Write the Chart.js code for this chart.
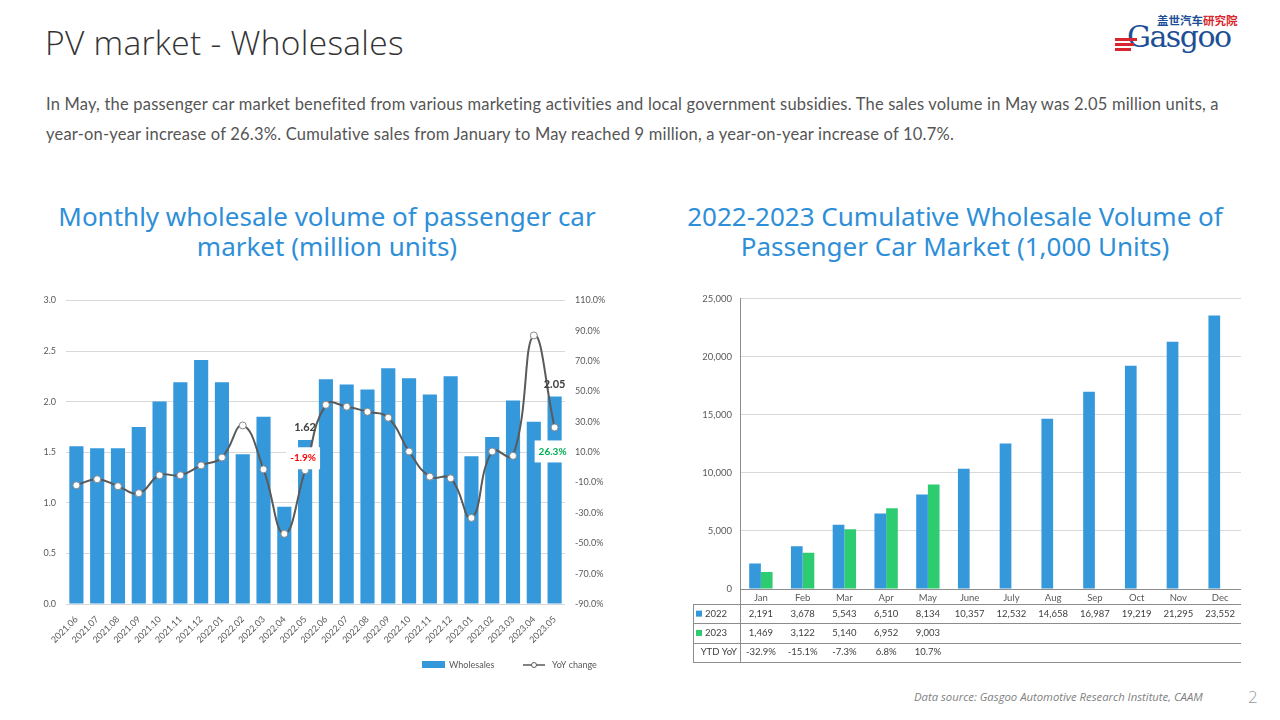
<!DOCTYPE html>
<html>
<head>
<meta charset="utf-8">
<script src="https://cdn.jsdelivr.net/npm/chart.js@4.4.0/dist/chart.umd.min.js"></script>
<style>
  html, body { margin: 0; padding: 0; background: #fff; }
  body { width: 1280px; height: 720px; position: relative; overflow: hidden; font-family: 'Open Sans', Lato, sans-serif; }
  #page-title { position: absolute; left: 45px; top: 19px; font-size: 33.5px; font-weight: 300; color: #333; letter-spacing: 0.3px; }
  #summary { position: absolute; left: 46px; top: 89px; width: 1220px; font-family: Lato, sans-serif; font-size: 16.5px; letter-spacing: 0.2px; line-height: 30px; color: #555; margin: 0; }
  .chart-title { position: absolute; top: 201px; text-align: center; font-family: 'Noto Sans', sans-serif; font-size: 26px; line-height: 30px; color: #2E8FD8; white-space: nowrap; }
  #title-left { left: 30px; width: 594px; }
  #title-right { left: 660px; width: 590px; }
  .chart-box { position: absolute; }
  #box-left { left: 30px; top: 285px; width: 600px; height: 400px; }
  #box-right { left: 685px; top: 285px; width: 565px; height: 390px; }
  #source { position: absolute; left: 914px; top: 689px; font-family: 'Open Sans', sans-serif; font-style: italic; font-size: 11.3px; color: #7f7f7f; }
  #page-num { position: absolute; left: 1248px; top: 685px; font-size: 17px; color: #9a9a9a; font-weight: 300; }
  #logo { position: absolute; left: 1114px; top: 12px; width: 125px; height: 42px; }
  #logo .cn { position: absolute; left: 43px; top: 0px; font-family: 'Noto Sans CJK SC', sans-serif; font-weight: 700; font-size: 11.5px; color: #1d4f96; white-space: nowrap; }
  #logo .cn span { color: #d9262e; }
  #logo .en { position: absolute; left: 13px; top: 7px; font-family: 'DejaVu Serif', 'Liberation Serif', serif; font-size: 30px; color: #1d4f96; letter-spacing: -1.5px; }
  #logo .stripe { position: absolute; left: 1px; height: 3px; width: 22px; background: #d9262e; }
</style>
</head>
<body>
<div id="page-title">PV market - Wholesales</div>
<p id="summary">In May, the passenger car market benefited from various marketing activities and local government subsidies. The sales volume in May was 2.05 million units, a<br>year-on-year increase of 26.3%. Cumulative sales from January to May reached 9 million, a year-on-year increase of 10.7%.</p>

<div id="logo">
  <div class="cn">盖世汽车<span>研究院</span></div>
  <div class="en">Gasgoo</div>
  <div class="stripe" style="top:26px"></div>
  <div class="stripe" style="top:31px;width:19px"></div>
  <div class="stripe" style="top:36px;width:16px"></div>
</div>

<div class="chart-title" id="title-left">Monthly wholesale volume of passenger car<br>market (million units)</div>
<div class="chart-title" id="title-right">2022-2023 Cumulative Wholesale Volume of<br>Passenger Car Market (1,000 Units)</div>

<div class="chart-box" id="box-left"><canvas id="monthlyChart"></canvas></div>
<div class="chart-box" id="box-right"><canvas id="cumulativeChart"></canvas></div>

<div id="source">Data source: Gasgoo Automotive Research Institute, CAAM</div>
<div id="page-num">2</div>

<script>
// Monthly wholesale (million units) and YoY change (%)
const months = ['2021.06', '2021.07', '2021.08', '2021.09', '2021.10', '2021.11', '2021.12',
  '2022.01', '2022.02', '2022.03', '2022.04', '2022.05', '2022.06', '2022.07', '2022.08',
  '2022.09', '2022.10', '2022.11', '2022.12', '2023.01', '2023.02', '2023.03', '2023.04', '2023.05'];
const wholesales = [1.56, 1.54, 1.54, 1.75, 2.00, 2.19, 2.41, 2.19, 1.48, 1.85, 0.96, 1.62,
  2.22, 2.17, 2.12, 2.33, 2.23, 2.07, 2.25, 1.46, 1.65, 2.01, 1.80, 2.05];
const yoyChange = [-11.8, -7.8, -12.4, -17.0, -5.2, -5.2, 1.3, 6.5, 27.6, -1.3, -43.8, -1.9,
  41.2, 40.0, 36.6, 32.7, 10.5, -6.1, -7.2, -33.3, 10.5, 7.6, 86.9, 26.3];

// Cumulative wholesale (1,000 units)
const cumMonths = ['Jan', 'Feb', 'Mar', 'Apr', 'May', 'June', 'July', 'Aug', 'Sep', 'Oct', 'Nov', 'Dec'];
const cum2022 = [2191, 3678, 5543, 6510, 8134, 10357, 12532, 14658, 16987, 19219, 21295, 23552];
const cum2023 = [1469, 3122, 5140, 6952, 9003, null, null, null, null, null, null, null];
const ytdYoY = [-32.9, -15.1, -7.3, 6.8, 10.7];

const BLUE = '#3498DB';
const GREEN = '#2ECC71';
const GREY_LINE = '#5a5a5a';
const TICK_COLOR = '#595959';
const tickFont = { family: 'Lato', size: 9 };

// months whose values get callouts
const highlighted = [11, 23];

const monthlyLabels = {
  id: 'monthlyLabels',
  afterDatasetsDraw(chart) {
    const { ctx } = chart;
    const bars = chart.getDatasetMeta(0).data;
    const points = chart.getDatasetMeta(1).data;
    ctx.save();
    highlighted.forEach((i) => {
      const bar = bars[i];
      ctx.font = 'bold 11px Lato';
      ctx.fillStyle = '#404040';
      ctx.textAlign = 'center';
      ctx.textBaseline = 'bottom';
      ctx.fillText(wholesales[i].toFixed(2), bar.x, bar.y - 7);

      const pt = points[i];
      const val = yoyChange[i];
      const txt = `${val.toFixed(1)}%`;
      const cy = val < 0 ? pt.y - 12 : pt.y + 24;
      const cx = pt.x - 2;
      ctx.font = 'bold 10px Lato';
      const w = ctx.measureText(txt).width + 8;
      ctx.fillStyle = '#ffffff';
      ctx.fillRect(cx - w / 2, cy - 11, w, 22);
      ctx.fillStyle = val < 0 ? '#FF0000' : '#00B050';
      ctx.textBaseline = 'middle';
      ctx.fillText(txt, cx, cy);
    });
    ctx.restore();
  },
  afterDraw(chart) {
    const { ctx } = chart;
    const y = chart.height - 20;
    ctx.save();
    ctx.fillStyle = BLUE;
    ctx.fillRect(392, y - 4, 23, 7);
    ctx.font = '9px Lato';
    ctx.fillStyle = TICK_COLOR;
    ctx.textAlign = 'left';
    ctx.textBaseline = 'middle';
    ctx.fillText('Wholesales', 419, y);
    ctx.strokeStyle = GREY_LINE;
    ctx.lineWidth = 1.5;
    ctx.beginPath();
    ctx.moveTo(493, y);
    ctx.lineTo(515, y);
    ctx.stroke();
    ctx.beginPath();
    ctx.arc(504, y, 2.5, 0, Math.PI * 2);
    ctx.fillStyle = '#fff';
    ctx.fill();
    ctx.lineWidth = 1;
    ctx.stroke();
    ctx.fillStyle = TICK_COLOR;
    ctx.fillText('YoY change', 522, y);
    ctx.restore();
  },
};

new Chart(document.getElementById('monthlyChart'), {
  data: {
    labels: months,
    datasets: [
      {
        type: 'bar',
        label: 'Wholesales',
        data: wholesales,
        backgroundColor: BLUE,
        yAxisID: 'y',
        categoryPercentage: 1,
        barPercentage: 0.68,
        order: 1,
      },
      {
        type: 'line',
        label: 'YoY change',
        data: yoyChange,
        yAxisID: 'y1',
        borderColor: GREY_LINE,
        borderWidth: 2,
        tension: 0.45,
        pointRadius: 3.5,
        pointBackgroundColor: '#ffffff',
        pointBorderColor: '#888888',
        pointBorderWidth: 1,
        order: 0,
      },
    ],
  },
  options: {
    responsive: true,
    maintainAspectRatio: false,
    animation: false,
    layout: { padding: { top: 13, bottom: 31, left: 0, right: 0 } },
    plugins: { legend: { display: false }, tooltip: { enabled: false } },
    scales: {
      x: {
        grid: { display: false },
        border: { display: false },
        ticks: { color: TICK_COLOR, font: tickFont, minRotation: 45, maxRotation: 45, padding: 2 },
        afterFit: (scale) => { scale.height = 50; },
      },
      y: {
        position: 'left',
        min: 0,
        max: 3,
        ticks: { stepSize: 0.5, color: TICK_COLOR, font: tickFont, padding: 10, callback: (v) => v.toFixed(1) },
        grid: { color: '#d9d9d9', drawTicks: false },
        border: { display: false },
        afterFit: (scale) => { scale.width = 36; },
      },
      y1: {
        position: 'right',
        min: -90,
        max: 110,
        ticks: { stepSize: 20, color: TICK_COLOR, font: tickFont, padding: 10, callback: (v) => `${v.toFixed(1)}%` },
        grid: { drawOnChartArea: false, drawTicks: false },
        border: { display: false },
        afterFit: (scale) => { scale.width = 65; },
      },
    },
  },
  plugins: [monthlyLabels],
});

const dataTable = {
  id: 'dataTable',
  afterDraw(chart) {
    const { ctx, chartArea } = chart;
    const xScale = chart.scales.x;
    const left = chartArea.left - 47;
    const top = chartArea.bottom + 15;
    const rowH = 19.3;
    const right = chartArea.right;
    ctx.save();
    ctx.strokeStyle = '#8c8c8c';
    ctx.lineWidth = 1;
    ctx.beginPath();
    for (let r = 0; r <= 3; r++) {
      const y = Math.round(top + r * rowH) + 0.5;
      ctx.moveTo(left, y);
      ctx.lineTo(right, y);
    }
    ctx.moveTo(left + 0.5, top);
    ctx.lineTo(left + 0.5, top + 3 * rowH);
    ctx.moveTo(Math.round(chartArea.left) + 0.5, chartArea.bottom);
    ctx.lineTo(Math.round(chartArea.left) + 0.5, top + 3 * rowH);
    ctx.stroke();

    ctx.font = '9.5px Lato';
    ctx.fillStyle = '#404040';
    ctx.textBaseline = 'middle';
    const rows = [
      cum2022.map((v) => (v == null ? '' : v.toLocaleString('en-US'))),
      cum2023.map((v) => (v == null ? '' : v.toLocaleString('en-US'))),
      ytdYoY.map((v) => `${v.toFixed(1)}%`),
    ];
    rows.forEach((cells, r) => {
      const cy = top + r * rowH + rowH / 2;
      ctx.textAlign = 'center';
      cells.forEach((txt, i) => {
        ctx.fillText(txt, xScale.getPixelForValue(i), cy);
      });
    });
    // row headers
    const headerY = (r) => top + r * rowH + rowH / 2;
    ctx.textAlign = 'left';
    ctx.fillStyle = BLUE;
    ctx.fillRect(left + 3, headerY(0) - 3, 6, 6);
    ctx.fillStyle = GREEN;
    ctx.fillRect(left + 3, headerY(1) - 3, 6, 6);
    ctx.fillStyle = '#404040';
    ctx.fillText(chart.data.datasets[0].label, left + 12, headerY(0));
    ctx.fillText(chart.data.datasets[1].label, left + 12, headerY(1));
    ctx.textAlign = 'right';
    ctx.fillText('YTD YoY', chartArea.left - 3, headerY(2));
    ctx.restore();
  },
};

new Chart(document.getElementById('cumulativeChart'), {
  type: 'bar',
  data: {
    labels: cumMonths,
    datasets: [
      { label: '2022', data: cum2022, backgroundColor: BLUE, categoryPercentage: 0.56, barPercentage: 1 },
      { label: '2023', data: cum2023, backgroundColor: GREEN, categoryPercentage: 0.56, barPercentage: 1 },
    ],
  },
  options: {
    responsive: true,
    maintainAspectRatio: false,
    animation: false,
    layout: { padding: { top: 11, bottom: 68, left: 0, right: 9 } },
    plugins: { legend: { display: false }, tooltip: { enabled: false } },
    scales: {
      x: {
        grid: { display: false, drawTicks: false },
        border: { display: false },
        ticks: { color: TICK_COLOR, font: { family: 'Lato', size: 9.5 }, padding: 3 },
        afterFit: (scale) => { scale.height = 18; },
      },
      y: {
        min: 0,
        max: 25000,
        ticks: {
          stepSize: 5000,
          color: TICK_COLOR,
          font: { family: 'Lato', size: 9.5 },
          padding: 8,
          callback: (v) => v.toLocaleString('en-US'),
        },
        grid: {
          color: (c) => (c.tick && c.tick.value === 0 ? '#8c8c8c' : '#d9d9d9'),
          drawTicks: false,
        },
        border: { display: true, color: '#8c8c8c' },
        afterFit: (scale) => { scale.width = 55; },
      },
    },
  },
  plugins: [dataTable],
});
</script>
</body>
</html>
